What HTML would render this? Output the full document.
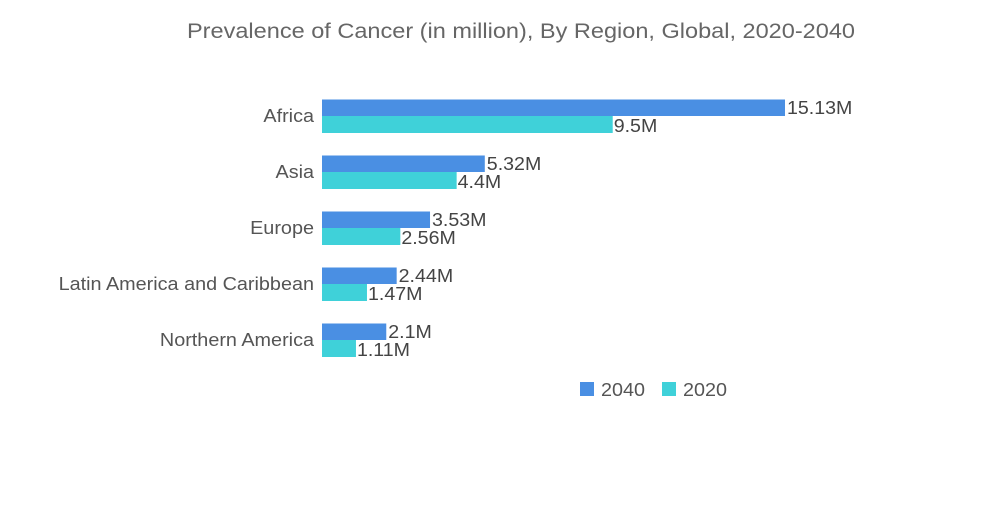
<!DOCTYPE html>
<html><head><meta charset="utf-8"><style>
body{margin:0;background:#fff;width:1000px;height:504px;overflow:hidden;font-family:"Liberation Sans",sans-serif}
</style></head><body>
<svg width="1000" height="504">
<text x="521" y="38" text-anchor="middle" font-size="21" fill="#666" textLength="668" lengthAdjust="spacingAndGlyphs">Prevalence of Cancer (in million), By Region, Global, 2020-2040</text>
<g id="plot"></g>
<g>
<rect x="580" y="382" width="14" height="14" fill="#4a8fe3"/>
<text x="601" y="396" font-size="18" fill="#555" textLength="44" lengthAdjust="spacingAndGlyphs">2040</text>
<rect x="662" y="382" width="14" height="14" fill="#3fd1d9"/>
<text x="683" y="396" font-size="18" fill="#555" textLength="44" lengthAdjust="spacingAndGlyphs">2020</text>
</g>
</svg>
<script>
const categories=["Africa","Asia","Europe","Latin America and Caribbean","Northern America"];
const values2040=[15.13,5.32,3.53,2.44,2.1];
const values2020=[9.5,4.4,2.56,1.47,1.11];
const labels2040=["15.13M","5.32M","3.53M","2.44M","2.1M"];
const labels2020=["9.5M","4.4M","2.56M","1.47M","1.11M"];
const x0=322, scale=463/15.13;
const xs=v=>x0+v*scale;
const yc=i=>116+i*56;
const g=document.getElementById('plot');
const NS="http://www.w3.org/2000/svg";
function mk(t,a){const e=document.createElementNS(NS,t);for(const k in a)e.setAttribute(k,a[k]);g.appendChild(e);return e;}
function widen(e,f){const w=e.getComputedTextLength();e.setAttribute('textLength',(w*f).toFixed(1));e.setAttribute('lengthAdjust','spacingAndGlyphs');}
categories.forEach((c,i)=>{
  const cl=mk('text',{x:314,y:yc(i)+6,'text-anchor':'end','font-size':18,fill:'#555'});cl.textContent=c;
  
  
  widen(cl,1.1);
  const b1=mk('rect',{x:x0,y:yc(i)-16.5,width:xs(values2040[i])-x0,height:16.5,fill:'#4a8fe3'});
  
  
  const b2=mk('rect',{x:x0,y:yc(i),width:xs(values2020[i])-x0,height:17,fill:'#3fd1d9'});
  
  
  const t1=mk('text',{x:xs(values2040[i])+2,y:yc(i)-2,'font-size':18.5,fill:'#444'});t1.textContent=labels2040[i];
  
  
  widen(t1,1.06);
  const t2=mk('text',{x:xs(values2020[i])+1,y:yc(i)+16,'font-size':18.5,fill:'#444'});t2.textContent=labels2020[i];
  
  
  widen(t2,1.06);
});
</script>
</body></html>
